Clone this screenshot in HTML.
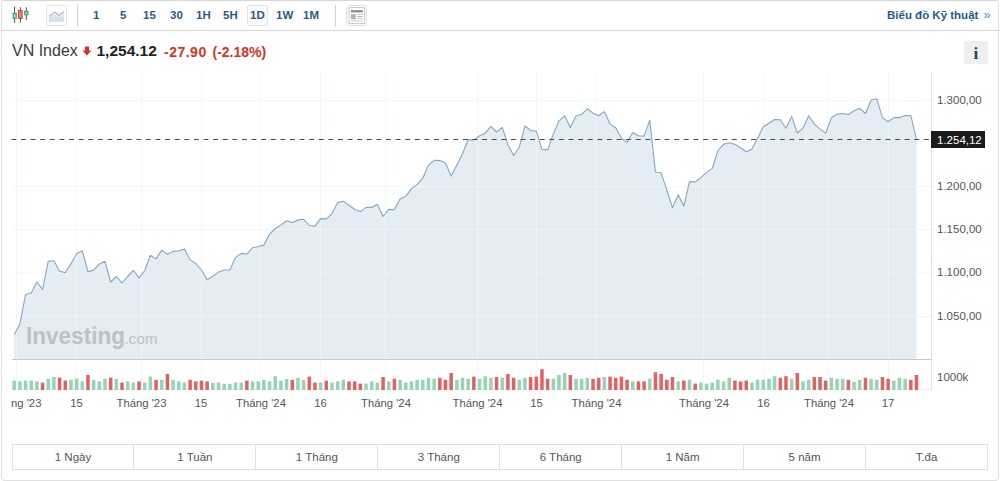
<!DOCTYPE html>
<html><head><meta charset="utf-8">
<style>
html,body{margin:0;padding:0;background:#fff;}
body{width:1000px;height:481px;overflow:hidden;position:relative;font-family:"Liberation Sans",sans-serif;}
.abs{position:absolute;white-space:nowrap;}
#frame{position:absolute;left:1px;top:0;width:996px;height:479px;border:1px solid #e0e0e0;border-top-color:#d6d6d6;border-radius:4px;}
#hdr{position:absolute;left:2px;top:30px;width:996px;height:1px;background:#d6d6d6;}
.tb{position:absolute;top:8px;font-size:11.5px;font-weight:bold;color:#2b5a8a;line-height:14px;}
.sep{position:absolute;top:5px;width:1px;height:21px;background:#cfcfcf;}
.tabs{position:absolute;left:11.5px;top:443.7px;width:974.5px;height:24.5px;border:1px solid #e0e0e0;display:flex;}
.tabs div{flex:1;border-left:1px solid #e0e0e0;text-align:center;font-size:11.5px;line-height:24px;color:#555;}
.tabs div:first-child{border-left:none;}
.yl{position:absolute;left:937px;font-size:11.5px;color:#555;line-height:12px;}
.xl{position:absolute;top:397px;font-size:11.3px;color:#555;line-height:12px;transform:translateX(-50%);}
</style></head>
<body>
<div id="frame"></div>
<div id="hdr"></div>

<!-- candlestick icon -->
<svg class="abs" style="left:0;top:0" width="80" height="30">
  <g stroke-width="1">
    <line x1="14.6" y1="6.7" x2="14.6" y2="22.8" stroke="#555"/>
    <rect x="13.1" y="13.4" width="3.2" height="5" fill="#8fdc9c" stroke="#3f9a55"/>
    <line x1="20.4" y1="7.2" x2="20.4" y2="22.8" stroke="#555"/>
    <rect x="18.6" y="10.5" width="3.5" height="8" fill="#f27a7a" stroke="#c23c3c"/>
    <line x1="26.3" y1="7.2" x2="26.3" y2="20" stroke="#555"/>
    <rect x="24.7" y="11.4" width="3.2" height="3.4" fill="#8fdc9c" stroke="#3f9a55"/>
  </g>
  <rect x="46.5" y="5.5" width="20" height="20" rx="2" fill="#fdfdfd" stroke="#e2e2e2"/>
  <defs><linearGradient id="lg" x1="0" y1="0" x2="0" y2="1"><stop offset="0" stop-color="#eef3fa"/><stop offset="1" stop-color="#d3d9e6"/></linearGradient></defs>
  <path d="M49,16.3 L54.7,12 L59.3,15.2 L64.2,11.5 L64.2,21.7 L49,21.7 Z" fill="url(#lg)"/>
  <polyline points="49,16.3 54.7,12 59.3,15.2 64.2,11.5" fill="none" stroke="#8c98aa" stroke-width="0.9"/>
</svg>
<div class="sep" style="left:77px"></div>
<div class="tb" style="left:93px">1</div>
<div class="tb" style="left:120px">5</div>
<div class="tb" style="left:143px">15</div>
<div class="tb" style="left:170px">30</div>
<div class="tb" style="left:196px">1H</div>
<div class="tb" style="left:223px">5H</div>
<div class="abs" style="left:247px;top:5px;width:19px;height:19px;border:1px solid #e3e3e3;border-radius:2px;background:#fafafa"></div>
<div class="tb" style="left:250px">1D</div>
<div class="tb" style="left:276px">1W</div>
<div class="tb" style="left:303px">1M</div>
<div class="sep" style="left:335px"></div>
<svg class="abs" style="left:340px;top:0" width="40" height="30">
  <rect x="6.5" y="5.5" width="20" height="20" rx="2" fill="#fdfdfd" stroke="#e2e2e2"/>
  <rect x="9" y="7.6" width="15.6" height="16" fill="#fff" stroke="#c4c4c4" stroke-width="0.9"/>
  <rect x="10.9" y="10.1" width="11.9" height="2.4" fill="#8e8e8e"/>
  <rect x="10.9" y="14.2" width="4.9" height="5.1" fill="#b2b2b2"/>
  <rect x="17.1" y="14" width="5.7" height="0.8" fill="#b8b8b8"/>
  <rect x="17.1" y="16.1" width="5.7" height="0.8" fill="#a8a8a8"/>
  <rect x="17.1" y="18.1" width="5.7" height="0.8" fill="#c0c0c0"/>
  <rect x="10.9" y="20.5" width="11.9" height="0.8" fill="#c0c0c0"/>
</svg>
<div class="abs" style="left:887px;top:8px;font-size:11.5px;font-weight:bold;color:#245b93;line-height:14px">Biểu đồ Kỹ thuật</div>
<div class="abs" style="left:983.5px;top:8px;font-size:13px;color:#6c8db3;line-height:14px">»</div>

<!-- price row -->
<div class="abs" style="left:12px;top:42px;font-size:16px;color:#3a3a3a;line-height:18px">VN Index</div>
<svg class="abs" style="left:82px;top:45.5px" width="11" height="11"><path d="M3,0.5 H7 V4.5 H9.5 L5,9.5 L0.5,4.5 H3 Z" fill="#e0301e"/></svg>
<div class="abs" style="left:96.5px;top:41.5px;font-size:15.5px;font-weight:bold;color:#222;line-height:18px">1,254.12</div>
<div class="abs" style="left:164px;top:43.5px;font-size:14px;letter-spacing:0.5px;font-weight:bold;color:#d4351c;line-height:16px">-27.90</div>
<div class="abs" style="left:212.5px;top:43.5px;font-size:14px;font-weight:bold;color:#d4351c;line-height:16px">(-2.18%)</div>
<div class="abs" style="left:964px;top:41px;width:24px;height:23px;background:#efefef"></div>
<div class="abs" style="left:973.5px;top:45px;font-family:'Liberation Serif',serif;font-weight:bold;font-size:17px;color:#1d3f66;line-height:18px">i</div>

<!-- chart -->
<svg class="abs" style="left:0;top:0" width="1000" height="481">
  
  <path d="M14.20,359.5 L14.20,334.60 L19.87,324.20 L25.55,294.50 L31.22,293.00 L36.90,282.00 L42.57,289.50 L48.25,261.20 L53.92,260.80 L59.60,271.20 L65.27,272.60 L70.95,263.90 L76.62,253.50 L82.30,250.80 L87.97,271.60 L93.65,270.10 L99.32,263.90 L105.00,261.20 L110.67,282.00 L116.35,276.50 L122.02,282.80 L127.70,276.50 L133.37,270.50 L139.05,277.80 L144.72,270.50 L150.40,255.30 L156.07,258.90 L161.75,250.10 L167.42,254.30 L173.10,251.60 L178.77,250.80 L184.45,249.10 L190.12,259.90 L195.79,263.50 L201.47,270.00 L207.14,279.80 L212.82,276.30 L218.49,272.10 L224.17,270.00 L229.84,270.00 L235.52,257.60 L241.19,253.40 L246.87,254.00 L252.54,247.80 L258.22,246.50 L263.89,245.10 L269.57,234.10 L275.24,228.50 L280.92,224.90 L286.59,220.80 L292.27,222.50 L297.94,219.90 L303.62,219.30 L309.29,225.50 L314.97,226.10 L320.64,218.60 L326.32,218.90 L331.99,213.60 L337.67,202.60 L343.34,201.20 L349.02,205.30 L354.69,209.50 L360.37,211.60 L366.04,207.40 L371.72,207.40 L377.39,204.30 L383.06,216.50 L388.74,209.40 L394.41,209.60 L400.09,199.00 L405.76,196.30 L411.44,188.60 L417.11,184.40 L422.79,178.20 L428.46,165.10 L434.14,160.30 L439.81,160.60 L445.49,163.00 L451.16,176.10 L456.84,165.10 L462.51,153.70 L468.19,139.70 L473.86,139.90 L479.54,135.70 L485.21,133.20 L490.89,126.40 L496.56,132.00 L502.24,127.40 L507.91,144.50 L513.59,155.50 L519.26,147.20 L524.94,125.80 L530.61,130.50 L536.29,131.20 L541.96,149.30 L547.64,149.90 L553.31,134.10 L558.98,120.80 L564.66,115.80 L570.33,127.40 L576.01,115.80 L581.68,114.30 L587.36,108.70 L593.03,113.30 L598.71,115.80 L604.38,111.60 L610.06,124.10 L615.73,127.80 L621.41,138.20 L627.08,142.40 L632.76,132.40 L638.43,135.70 L644.11,136.10 L649.78,120.20 L655.46,172.00 L661.13,172.80 L666.81,190.00 L672.48,207.70 L678.16,194.80 L683.83,206.00 L689.51,181.70 L695.18,181.90 L700.86,177.60 L706.53,172.40 L712.21,168.60 L717.88,150.50 L723.56,144.30 L729.23,142.80 L734.91,144.30 L740.58,147.70 L746.25,151.70 L751.93,149.00 L757.60,138.20 L763.28,126.80 L768.95,123.20 L774.63,119.50 L780.30,119.70 L785.98,128.20 L791.65,116.40 L797.33,133.00 L803.00,128.20 L808.68,115.80 L814.35,124.10 L820.03,128.90 L825.70,133.10 L831.38,117.70 L837.05,114.10 L842.73,113.50 L848.40,114.50 L854.08,110.80 L859.75,108.30 L865.43,113.50 L871.10,100.00 L876.78,98.90 L882.45,117.60 L888.13,121.80 L893.80,117.60 L899.48,117.60 L905.15,115.50 L910.83,115.70 L916.50,139.40 L916.50,359.5 Z" fill="#e4ecf4"/>
  <g id="grid" stroke="#f3f4f6" stroke-opacity="0.8" stroke-width="1">
    <line x1="16.5" y1="73" x2="16.5" y2="390"/>
    <line x1="76.5" y1="73" x2="76.5" y2="390"/>
    <line x1="141.5" y1="73" x2="141.5" y2="390"/>
    <line x1="201.5" y1="73" x2="201.5" y2="390"/>
    <line x1="260.5" y1="73" x2="260.5" y2="390"/>
    <line x1="320.5" y1="73" x2="320.5" y2="390"/>
    <line x1="385.5" y1="73" x2="385.5" y2="390"/>
    <line x1="477.5" y1="73" x2="477.5" y2="390"/>
    <line x1="536.5" y1="73" x2="536.5" y2="390"/>
    <line x1="596.5" y1="73" x2="596.5" y2="390"/>
    <line x1="703.5" y1="73" x2="703.5" y2="390"/>
    <line x1="763.5" y1="73" x2="763.5" y2="390"/>
    <line x1="828.5" y1="73" x2="828.5" y2="390"/>
    <line x1="888.5" y1="73" x2="888.5" y2="390"/>
    <line x1="12" y1="100.5" x2="931" y2="100.5"/>
    <line x1="12" y1="186.5" x2="931" y2="186.5"/>
    <line x1="12" y1="229.5" x2="931" y2="229.5"/>
    <line x1="12" y1="273" x2="931" y2="273"/>
    <line x1="12" y1="316.5" x2="931" y2="316.5"/>
    <line x1="931" y1="100.5" x2="935" y2="100.5"/>
    <line x1="931" y1="186.5" x2="935" y2="186.5"/>
    <line x1="931" y1="229.5" x2="935" y2="229.5"/>
    <line x1="931" y1="273" x2="935" y2="273"/>
    <line x1="931" y1="316.5" x2="935" y2="316.5"/>
    <line x1="931" y1="377.5" x2="935" y2="377.5"/>
  </g>
  <polyline points="14.20,334.60 19.87,324.20 25.55,294.50 31.22,293.00 36.90,282.00 42.57,289.50 48.25,261.20 53.92,260.80 59.60,271.20 65.27,272.60 70.95,263.90 76.62,253.50 82.30,250.80 87.97,271.60 93.65,270.10 99.32,263.90 105.00,261.20 110.67,282.00 116.35,276.50 122.02,282.80 127.70,276.50 133.37,270.50 139.05,277.80 144.72,270.50 150.40,255.30 156.07,258.90 161.75,250.10 167.42,254.30 173.10,251.60 178.77,250.80 184.45,249.10 190.12,259.90 195.79,263.50 201.47,270.00 207.14,279.80 212.82,276.30 218.49,272.10 224.17,270.00 229.84,270.00 235.52,257.60 241.19,253.40 246.87,254.00 252.54,247.80 258.22,246.50 263.89,245.10 269.57,234.10 275.24,228.50 280.92,224.90 286.59,220.80 292.27,222.50 297.94,219.90 303.62,219.30 309.29,225.50 314.97,226.10 320.64,218.60 326.32,218.90 331.99,213.60 337.67,202.60 343.34,201.20 349.02,205.30 354.69,209.50 360.37,211.60 366.04,207.40 371.72,207.40 377.39,204.30 383.06,216.50 388.74,209.40 394.41,209.60 400.09,199.00 405.76,196.30 411.44,188.60 417.11,184.40 422.79,178.20 428.46,165.10 434.14,160.30 439.81,160.60 445.49,163.00 451.16,176.10 456.84,165.10 462.51,153.70 468.19,139.70 473.86,139.90 479.54,135.70 485.21,133.20 490.89,126.40 496.56,132.00 502.24,127.40 507.91,144.50 513.59,155.50 519.26,147.20 524.94,125.80 530.61,130.50 536.29,131.20 541.96,149.30 547.64,149.90 553.31,134.10 558.98,120.80 564.66,115.80 570.33,127.40 576.01,115.80 581.68,114.30 587.36,108.70 593.03,113.30 598.71,115.80 604.38,111.60 610.06,124.10 615.73,127.80 621.41,138.20 627.08,142.40 632.76,132.40 638.43,135.70 644.11,136.10 649.78,120.20 655.46,172.00 661.13,172.80 666.81,190.00 672.48,207.70 678.16,194.80 683.83,206.00 689.51,181.70 695.18,181.90 700.86,177.60 706.53,172.40 712.21,168.60 717.88,150.50 723.56,144.30 729.23,142.80 734.91,144.30 740.58,147.70 746.25,151.70 751.93,149.00 757.60,138.20 763.28,126.80 768.95,123.20 774.63,119.50 780.30,119.70 785.98,128.20 791.65,116.40 797.33,133.00 803.00,128.20 808.68,115.80 814.35,124.10 820.03,128.90 825.70,133.10 831.38,117.70 837.05,114.10 842.73,113.50 848.40,114.50 854.08,110.80 859.75,108.30 865.43,113.50 871.10,100.00 876.78,98.90 882.45,117.60 888.13,121.80 893.80,117.60 899.48,117.60 905.15,115.50 910.83,115.70 916.50,139.40" fill="none" stroke="#84a7c4" stroke-width="1.1" stroke-linejoin="round"/>
  <line x1="12" y1="359.5" x2="931" y2="359.5" stroke="#c4c8cd"/>
  <line x1="931.5" y1="73" x2="931.5" y2="390" stroke="#e2e2e2"/>
  <line x1="12" y1="389.5" x2="931" y2="389.5" stroke="#eeeeee"/>
  <line x1="11.4" y1="139.5" x2="931" y2="139.5" stroke="#4a4a4a" stroke-dasharray="4.9,4.706" stroke-width="1.1"/>
  <g fill="#97d3b5"><rect x="12.45" y="380.60" width="3.5" height="9.40"/><rect x="18.12" y="381.40" width="3.5" height="8.60"/><rect x="23.80" y="380.60" width="3.5" height="9.40"/><rect x="29.47" y="380.60" width="3.5" height="9.40"/><rect x="35.15" y="381.40" width="3.5" height="8.60"/><rect x="46.50" y="378.80" width="3.5" height="11.20"/><rect x="52.17" y="377.00" width="3.5" height="13.00"/><rect x="69.20" y="379.80" width="3.5" height="10.20"/><rect x="74.87" y="378.60" width="3.5" height="11.40"/><rect x="80.55" y="381.40" width="3.5" height="8.60"/><rect x="91.90" y="379.80" width="3.5" height="10.20"/><rect x="97.57" y="381.40" width="3.5" height="8.60"/><rect x="103.25" y="378.80" width="3.5" height="11.20"/><rect x="114.60" y="378.80" width="3.5" height="11.20"/><rect x="125.95" y="381.40" width="3.5" height="8.60"/><rect x="131.62" y="382.60" width="3.5" height="7.40"/><rect x="142.97" y="382.60" width="3.5" height="7.40"/><rect x="148.65" y="376.60" width="3.5" height="13.40"/><rect x="160.00" y="379.80" width="3.5" height="10.20"/><rect x="171.35" y="379.80" width="3.5" height="10.20"/><rect x="177.02" y="381.40" width="3.5" height="8.60"/><rect x="182.70" y="382.60" width="3.5" height="7.40"/><rect x="211.07" y="383.00" width="3.5" height="7.00"/><rect x="216.74" y="382.60" width="3.5" height="7.40"/><rect x="222.42" y="383.80" width="3.5" height="6.20"/><rect x="228.09" y="383.80" width="3.5" height="6.20"/><rect x="233.77" y="382.60" width="3.5" height="7.40"/><rect x="239.44" y="382.60" width="3.5" height="7.40"/><rect x="250.79" y="381.40" width="3.5" height="8.60"/><rect x="256.47" y="381.40" width="3.5" height="8.60"/><rect x="262.14" y="379.80" width="3.5" height="10.20"/><rect x="267.82" y="381.40" width="3.5" height="8.60"/><rect x="273.49" y="376.20" width="3.5" height="13.80"/><rect x="279.17" y="380.60" width="3.5" height="9.40"/><rect x="284.84" y="379.00" width="3.5" height="11.00"/><rect x="296.19" y="377.80" width="3.5" height="12.20"/><rect x="301.87" y="379.80" width="3.5" height="10.20"/><rect x="318.89" y="382.60" width="3.5" height="7.40"/><rect x="330.24" y="382.60" width="3.5" height="7.40"/><rect x="335.92" y="381.40" width="3.5" height="8.60"/><rect x="341.59" y="379.80" width="3.5" height="10.20"/><rect x="364.29" y="383.60" width="3.5" height="6.40"/><rect x="369.97" y="381.40" width="3.5" height="8.60"/><rect x="375.64" y="382.60" width="3.5" height="7.40"/><rect x="386.99" y="381.40" width="3.5" height="8.60"/><rect x="398.34" y="379.80" width="3.5" height="10.20"/><rect x="404.01" y="382.60" width="3.5" height="7.40"/><rect x="409.69" y="381.40" width="3.5" height="8.60"/><rect x="415.36" y="379.80" width="3.5" height="10.20"/><rect x="421.04" y="379.80" width="3.5" height="10.20"/><rect x="426.71" y="377.80" width="3.5" height="12.20"/><rect x="432.39" y="378.80" width="3.5" height="11.20"/><rect x="455.09" y="379.80" width="3.5" height="10.20"/><rect x="460.76" y="377.80" width="3.5" height="12.20"/><rect x="466.44" y="378.80" width="3.5" height="11.20"/><rect x="477.79" y="378.80" width="3.5" height="11.20"/><rect x="483.46" y="376.20" width="3.5" height="13.80"/><rect x="489.14" y="377.80" width="3.5" height="12.20"/><rect x="500.49" y="377.80" width="3.5" height="12.20"/><rect x="517.51" y="379.80" width="3.5" height="10.20"/><rect x="523.19" y="377.80" width="3.5" height="12.20"/><rect x="551.56" y="378.80" width="3.5" height="11.20"/><rect x="557.23" y="375.00" width="3.5" height="15.00"/><rect x="562.91" y="373.00" width="3.5" height="17.00"/><rect x="574.26" y="378.80" width="3.5" height="11.20"/><rect x="579.93" y="378.80" width="3.5" height="11.20"/><rect x="585.61" y="377.80" width="3.5" height="12.20"/><rect x="602.63" y="377.00" width="3.5" height="13.00"/><rect x="631.01" y="381.40" width="3.5" height="8.60"/><rect x="648.03" y="378.80" width="3.5" height="11.20"/><rect x="676.41" y="381.40" width="3.5" height="8.60"/><rect x="687.76" y="379.80" width="3.5" height="10.20"/><rect x="699.11" y="382.60" width="3.5" height="7.40"/><rect x="704.78" y="383.60" width="3.5" height="6.40"/><rect x="710.46" y="382.60" width="3.5" height="7.40"/><rect x="716.13" y="379.80" width="3.5" height="10.20"/><rect x="721.81" y="381.40" width="3.5" height="8.60"/><rect x="727.48" y="377.80" width="3.5" height="12.20"/><rect x="750.18" y="382.60" width="3.5" height="7.40"/><rect x="755.85" y="379.80" width="3.5" height="10.20"/><rect x="761.53" y="379.80" width="3.5" height="10.20"/><rect x="767.20" y="378.80" width="3.5" height="11.20"/><rect x="772.88" y="376.20" width="3.5" height="13.80"/><rect x="789.90" y="378.80" width="3.5" height="11.20"/><rect x="801.25" y="381.40" width="3.5" height="8.60"/><rect x="806.93" y="379.80" width="3.5" height="10.20"/><rect x="829.63" y="377.80" width="3.5" height="12.20"/><rect x="835.30" y="378.80" width="3.5" height="11.20"/><rect x="840.98" y="378.80" width="3.5" height="11.20"/><rect x="852.33" y="381.80" width="3.5" height="8.20"/><rect x="858.00" y="379.80" width="3.5" height="10.20"/><rect x="869.35" y="378.80" width="3.5" height="11.20"/><rect x="875.03" y="379.80" width="3.5" height="10.20"/><rect x="892.05" y="380.60" width="3.5" height="9.40"/><rect x="897.73" y="377.80" width="3.5" height="12.20"/><rect x="903.40" y="378.80" width="3.5" height="11.20"/></g>
  <g fill="#e26262"><rect x="40.82" y="382.60" width="3.5" height="7.40"/><rect x="57.85" y="377.60" width="3.5" height="12.40"/><rect x="63.52" y="380.60" width="3.5" height="9.40"/><rect x="86.22" y="375.00" width="3.5" height="15.00"/><rect x="108.92" y="377.60" width="3.5" height="12.40"/><rect x="120.27" y="382.60" width="3.5" height="7.40"/><rect x="137.30" y="381.40" width="3.5" height="8.60"/><rect x="154.32" y="379.80" width="3.5" height="10.20"/><rect x="165.67" y="374.00" width="3.5" height="16.00"/><rect x="188.37" y="379.80" width="3.5" height="10.20"/><rect x="194.04" y="381.40" width="3.5" height="8.60"/><rect x="199.72" y="380.60" width="3.5" height="9.40"/><rect x="205.39" y="381.40" width="3.5" height="8.60"/><rect x="245.12" y="380.60" width="3.5" height="9.40"/><rect x="290.52" y="379.80" width="3.5" height="10.20"/><rect x="307.54" y="376.60" width="3.5" height="13.40"/><rect x="313.22" y="382.60" width="3.5" height="7.40"/><rect x="324.57" y="380.60" width="3.5" height="9.40"/><rect x="347.27" y="381.40" width="3.5" height="8.60"/><rect x="352.94" y="381.40" width="3.5" height="8.60"/><rect x="358.62" y="383.60" width="3.5" height="6.40"/><rect x="381.31" y="377.00" width="3.5" height="13.00"/><rect x="392.66" y="378.80" width="3.5" height="11.20"/><rect x="438.06" y="377.80" width="3.5" height="12.20"/><rect x="443.74" y="379.80" width="3.5" height="10.20"/><rect x="449.41" y="373.00" width="3.5" height="17.00"/><rect x="472.11" y="376.60" width="3.5" height="13.40"/><rect x="494.81" y="377.00" width="3.5" height="13.00"/><rect x="506.16" y="374.00" width="3.5" height="16.00"/><rect x="511.84" y="377.80" width="3.5" height="12.20"/><rect x="528.86" y="377.00" width="3.5" height="13.00"/><rect x="534.54" y="376.60" width="3.5" height="13.40"/><rect x="540.21" y="369.20" width="3.5" height="20.80"/><rect x="545.89" y="378.80" width="3.5" height="11.20"/><rect x="568.58" y="375.00" width="3.5" height="15.00"/><rect x="591.28" y="378.80" width="3.5" height="11.20"/><rect x="596.96" y="377.80" width="3.5" height="12.20"/><rect x="608.31" y="376.60" width="3.5" height="13.40"/><rect x="613.98" y="377.80" width="3.5" height="12.20"/><rect x="619.66" y="376.60" width="3.5" height="13.40"/><rect x="625.33" y="379.80" width="3.5" height="10.20"/><rect x="636.68" y="381.40" width="3.5" height="8.60"/><rect x="642.36" y="381.40" width="3.5" height="8.60"/><rect x="653.71" y="372.20" width="3.5" height="17.80"/><rect x="659.38" y="374.00" width="3.5" height="16.00"/><rect x="665.06" y="379.80" width="3.5" height="10.20"/><rect x="670.73" y="377.00" width="3.5" height="13.00"/><rect x="682.08" y="380.60" width="3.5" height="9.40"/><rect x="693.43" y="383.60" width="3.5" height="6.40"/><rect x="733.16" y="380.60" width="3.5" height="9.40"/><rect x="738.83" y="381.40" width="3.5" height="8.60"/><rect x="744.50" y="380.60" width="3.5" height="9.40"/><rect x="778.55" y="377.80" width="3.5" height="12.20"/><rect x="784.23" y="376.20" width="3.5" height="13.80"/><rect x="795.58" y="373.00" width="3.5" height="17.00"/><rect x="812.60" y="377.00" width="3.5" height="13.00"/><rect x="818.28" y="377.00" width="3.5" height="13.00"/><rect x="823.95" y="380.60" width="3.5" height="9.40"/><rect x="846.65" y="379.80" width="3.5" height="10.20"/><rect x="863.68" y="377.80" width="3.5" height="12.20"/><rect x="880.70" y="377.00" width="3.5" height="13.00"/><rect x="886.38" y="378.80" width="3.5" height="11.20"/><rect x="909.08" y="379.80" width="3.5" height="10.20"/><rect x="914.75" y="375.00" width="3.5" height="15.00"/></g>
  <rect x="931" y="131" width="54" height="17" fill="#1a1a1a"/>
</svg>
<div class="abs" style="left:26px;top:322px;font-size:24.5px;font-weight:bold;color:#bcc1c7;line-height:28px;transform-origin:0 0;transform:scaleX(0.92)">Investing</div>
<div class="abs" style="left:124.5px;top:330px;font-size:15px;color:#bcc1c7;line-height:17px;letter-spacing:0.2px">.com</div>
<div class="abs" style="left:92px;top:326px;width:3px;height:3px;border-radius:50%;background:#e9c9a0"></div>

<div class="yl" style="top:94px">1.300,00</div>
<div class="yl" style="top:134px;color:#fff">1.254,12</div>
<div class="yl" style="top:180px">1.200,00</div>
<div class="yl" style="top:223px">1.150,00</div>
<div class="yl" style="top:266px">1.100,00</div>
<div class="yl" style="top:310px">1.050,00</div>
<div class="yl" style="top:371px">1000k</div>

<div class="abs" style="left:11px;top:390px;width:920px;height:30px;overflow:hidden">
  <div class="xl" style="left:5.5px;top:7px">Tháng '23</div>
  <div class="xl" style="left:65.5px;top:7px">15</div>
  <div class="xl" style="left:130.5px;top:7px">Tháng '23</div>
  <div class="xl" style="left:190px;top:7px">15</div>
  <div class="xl" style="left:250px;top:7px">Tháng '24</div>
  <div class="xl" style="left:309.5px;top:7px">16</div>
  <div class="xl" style="left:375px;top:7px">Tháng '24</div>
  <div class="xl" style="left:466.5px;top:7px">Tháng '24</div>
  <div class="xl" style="left:525.5px;top:7px">15</div>
  <div class="xl" style="left:585.5px;top:7px">Tháng '24</div>
  <div class="xl" style="left:693px;top:7px">Tháng '24</div>
  <div class="xl" style="left:752.5px;top:7px">16</div>
  <div class="xl" style="left:818px;top:7px">Tháng '24</div>
  <div class="xl" style="left:877px;top:7px">17</div>
</div>

<div class="tabs">
  <div>1 Ngày</div><div>1 Tuần</div><div>1 Tháng</div><div>3 Tháng</div><div>6 Tháng</div><div>1 Năm</div><div>5 năm</div><div>T.đa</div>
</div>
</body></html>
